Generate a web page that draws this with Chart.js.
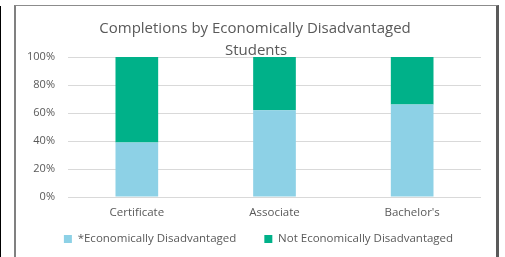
<!DOCTYPE html>
<html>
<head>
<meta charset="utf-8">
<script src="https://cdn.jsdelivr.net/npm/chart.js@4.4.0/dist/chart.umd.min.js"></script>
<style>
  html, body { margin: 0; padding: 0; background: #fff; }
  #wrap { position: relative; width: 505px; height: 257px; overflow: hidden; }
  #edge { position: absolute; left: 0; top: 6px; width: 1px; height: 260px; background: #000; }
  #frame { position: absolute; left: 14px; top: 5px; width: 480px; height: 260px;
           border-left: 2px solid #808080; border-top: 1px solid #8c8c8c; border-right: 3px solid #5a5a5a; }
  canvas { position: absolute; left: 0; top: 0; }
</style>
</head>
<body>
<div id="wrap">
  <div id="edge"></div>
  <div id="frame"></div>
  <canvas id="c" width="505" height="257"></canvas>
</div>
<script>
// données
const categories = ['Certificate', 'Associate', "Bachelor's"];
const disadvantaged = [39, 62, 66];
const notDisadvantaged = [61, 38, 34];
const seriesNames = ['*Economically Disadvantaged', 'Not Economically Disadvantaged'];
const titleLines = ['Completions by Economically Disadvantaged', 'Students'];

const grey = '#595959';
const font = "'Open Sans', 'Noto Sans', sans-serif";
const legendGap = 28;   // écart horizontal entre les entrées
const legendY = 239;    // ligne centrale de la légende

// titre dessiné à la main (la 2e ligne déborde sur la zone du graphique)
const titlePlugin = {
    id: 'excelTitle',
    afterLayout: function(chart) {
        // la légende garde un grand padding horizontal, on la remonte à sa place
        const lg = chart.legend;
        const shift = lg.top + legendGap + 11.5 / 2 - legendY;
        lg.top -= shift;
        lg.height = 52;
        lg.bottom = lg.top + lg.height;
    },
    afterDraw: function(chart) {
        const ctx = chart.ctx;
        ctx.save();
        ctx.fillStyle = grey;
        ctx.font = '15px ' + font;
        ctx.textAlign = 'center';
        ctx.textBaseline = 'alphabetic';
        ctx.fillText(titleLines[0], 255, 33);
        ctx.fillText(titleLines[1], 256, 55);
        ctx.restore();
    }
};

new Chart(document.getElementById('c'), {
    type: 'bar',
    data: {
        labels: categories,
        datasets: [
            { label: seriesNames[0], data: disadvantaged, backgroundColor: '#8DD1E6' },
            { label: seriesNames[1], data: notDisadvantaged, backgroundColor: '#00B189' }
        ]
    },
    options: {
        responsive: false,
        animation: false,
        layout: { padding: { left: 15, right: 3, top: 57, bottom: 0 } },
        datasets: { bar: { barPercentage: 0.31, categoryPercentage: 1 } },
        plugins: {
            legend: {
                position: 'bottom',
                maxHeight: 36,
                labels: { boxWidth: 8, boxHeight: 8, padding: legendGap, color: grey, font: { family: font, size: 11.5 } }
            },
            tooltip: { enabled: false }
        },
        scales: {
            x: {
                stacked: true,
                afterFit: function(s) { s.height = 24; },
                grid: { display: false, drawTicks: false },
                border: { display: false },
                ticks: { color: grey, padding: 9, font: { family: font, size: 11.5 } }
            },
            y: {
                stacked: true,
                min: 0, max: 100,
                afterFit: function(s) { s.width = 53; },
                grid: { color: '#D9D9D9', drawTicks: false },
                border: { display: false },
                ticks: { stepSize: 20, padding: 13, color: grey, font: { family: font, size: 11 },
                         callback: v => v + '%' }
            },
            y2: {
                position: 'right',
                display: true,
                afterFit: function(s) { s.width = 21; },
                grid: { display: false },
                border: { display: false },
                ticks: { display: false }
            }
        }
    },
    plugins: [titlePlugin]
});
</script>
</body>
</html>
